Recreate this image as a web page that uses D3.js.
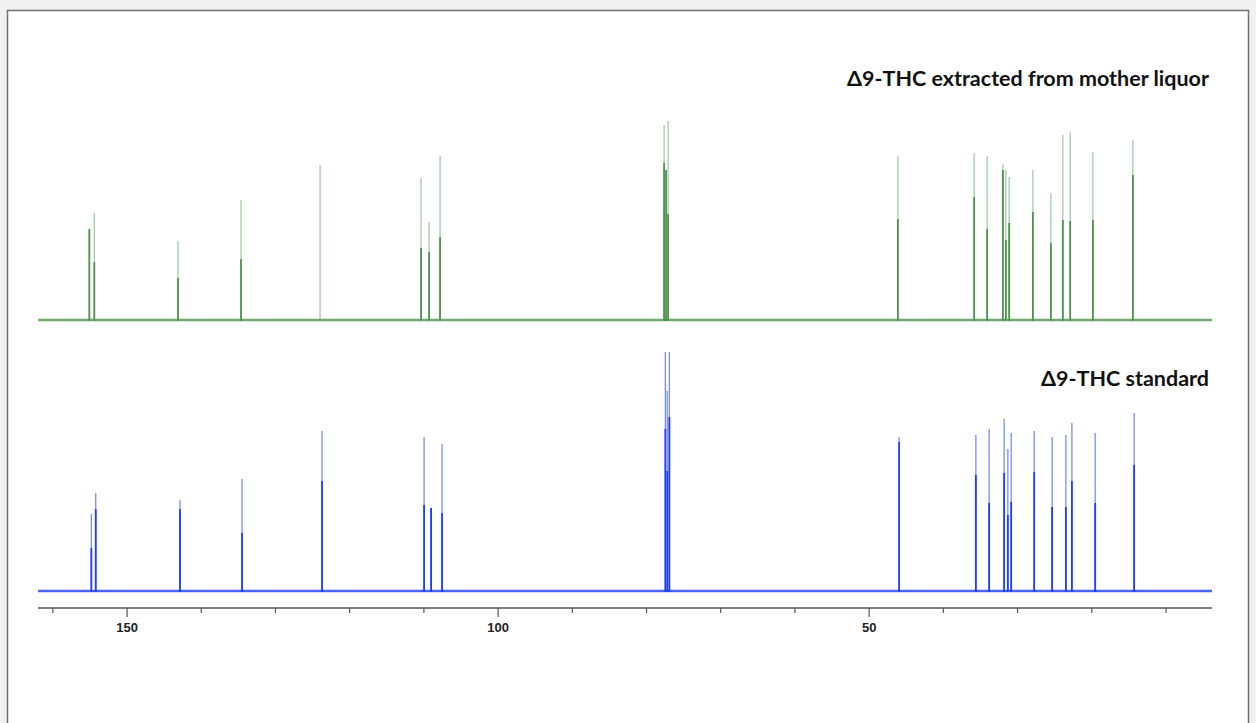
<!DOCTYPE html>
<html>
<head>
<meta charset="utf-8">
<script src="https://cdn.jsdelivr.net/npm/d3@7"></script>
<style>
  body { margin: 0; background: #f0f0f0; }
  svg { display: block; }
</style>
</head>
<body>
<svg id="mainVisualization" width="1256" height="723"></svg>
<script>
// peak positions (ppm), full heights and the dense lower part
var greenPpm    = [155.08, 154.41, 143.13, 134.64, 123.99, 110.38, 109.30, 107.82, 77.63, 77.36, 77.09,
                   46.13, 35.85, 34.10, 31.98, 31.58, 31.13, 27.94, 25.51, 23.90, 22.91, 19.85, 14.46];
var greenHeight = [91, 107, 79, 120, 155, 142, 98, 164, 195, 150, 199,
                   164, 167, 164, 156, 150, 143, 150, 127, 185, 188, 168, 180];
var greenCore   = [91, 58, 42, 61, 0, 72, 68, 83, 157, 150, 106,
                   101, 123, 91, 150, 80, 97, 108, 77, 100, 99, 100, 145];

var bluePpm     = [154.81, 154.22, 142.86, 134.50, 123.72, 109.97, 109.03, 107.55, 77.46, 77.20, 76.92,
                   45.96, 35.62, 33.83, 31.81, 31.31, 30.86, 27.76, 25.34, 23.49, 22.68, 19.54, 14.29];
var blueHeight  = [77, 98, 91, 112, 160, 154, 83, 147, 300, 200, 300,
                   154, 156, 162, 172, 142, 158, 160, 154, 156, 168, 158, 178];
var blueCore    = [43, 82, 82, 58, 110, 86, 83, 78, 162, 120, 174,
                   149, 116, 88, 118, 76, 89, 119, 84, 84, 110, 88, 126];

var majorTicks = [150, 100, 50];
var minorTicks = [160, 140, 130, 120, 110, 90, 80, 70, 60, 40, 30, 20, 10];

var labelTop = "\u03949-THC extracted from mother liquor";
var labelBottom = "\u03949-THC standard";

var svg = d3.select("svg#mainVisualization");

// white panel
svg.append("rect")
   .attr("x", 7.5).attr("y", 10.5)
   .attr("width", 1241).attr("height", 730)
   .attr("fill", "#fff")
   .attr("stroke", "#707070")
   .attr("stroke-width", 1.5);

var x = d3.scaleLinear().domain([162, 3.8]).range([38, 1212]);
var yTop = d3.scaleLinear().domain([0, 200]).range([320, 120]);
var yBot = d3.scaleLinear().domain([0, 200]).range([591, 391]);

svg.append("clipPath").attr("id", "clipBot")
   .append("rect").attr("x", 30).attr("y", 352).attr("width", 1200).attr("height", 250);

function drawSpectrum(ppm, height, core, y, color, faint, clip) {
  var g = svg.append("g");
  if (clip) g.attr("clip-path", "url(#" + clip + ")");
  var peaks = ppm.map(function(p, i) { return {ppm: p, h: height[i], c: core[i]}; });

  // baseline
  g.append("line")
   .attr("x1", x.range()[0]).attr("x2", x.range()[1])
   .attr("y1", y(0)).attr("y2", y(0))
   .attr("stroke", color)
   .attr("stroke-width", 2.4)
   .attr("stroke-opacity", 0.8);

  // faint full-height sticks
  g.selectAll("line.full")
   .data(peaks)
   .enter().append("line")
   .attr("class", "full")
   .attr("x1", function(d) { return x(d.ppm); })
   .attr("x2", function(d) { return x(d.ppm); })
   .attr("y1", y(0))
   .attr("y2", function(d) { return y(d.h); })
   .attr("stroke", color)
   .attr("stroke-width", 1.3)
   .attr("stroke-opacity", faint);

  // dense lower part
  g.selectAll("line.core")
   .data(peaks.filter(function(d) { return d.c > 0; }))
   .enter().append("line")
   .attr("class", "core")
   .attr("x1", function(d) { return x(d.ppm); })
   .attr("x2", function(d) { return x(d.ppm); })
   .attr("y1", y(0) + 1)
   .attr("y2", function(d) { return y(d.c); })
   .attr("stroke", color)
   .attr("stroke-width", 1.8);
}

drawSpectrum(greenPpm, greenHeight, greenCore, yTop, "#4f934f", 0.5, null);
drawSpectrum(bluePpm, blueHeight, blueCore, yBot, "#1f3dff", 0.6, "clipBot");

// x axis
var axisY = 608;
var axis = svg.append("g");
axis.append("line")
    .attr("x1", x.range()[0]).attr("x2", x.range()[1])
    .attr("y1", axisY).attr("y2", axisY)
    .attr("stroke", "#555").attr("stroke-width", 1.5);

axis.selectAll("line.minor")
    .data(minorTicks)
    .enter().append("line")
    .attr("x1", function(d) { return x(d); })
    .attr("x2", function(d) { return x(d); })
    .attr("y1", axisY).attr("y2", axisY + 5)
    .attr("stroke", "#555").attr("stroke-width", 1.2);

axis.selectAll("line.major")
    .data(majorTicks)
    .enter().append("line")
    .attr("x1", function(d) { return x(d); })
    .attr("x2", function(d) { return x(d); })
    .attr("y1", axisY).attr("y2", axisY + 9)
    .attr("stroke", "#555").attr("stroke-width", 1.2);

axis.selectAll("text")
    .data(majorTicks)
    .enter().append("text")
    .attr("x", function(d) { return x(d); })
    .attr("y", 632)
    .attr("text-anchor", "middle")
    .attr("font-family", "Liberation Sans, Arial, sans-serif")
    .attr("font-weight", "bold")
    .attr("font-size", 13)
    .attr("fill", "#222")
    .text(function(d) { return d; });

// labels
svg.append("text")
   .attr("x", 1209).attr("y", 86)
   .attr("text-anchor", "end")
   .attr("font-family", "Lato, sans-serif")
   .attr("font-weight", "bold")
   .attr("font-size", 21.5)
   .attr("fill", "#111")
   .text(labelTop);

svg.append("text")
   .attr("x", 1209).attr("y", 386)
   .attr("text-anchor", "end")
   .attr("font-family", "Lato, sans-serif")
   .attr("font-weight", "bold")
   .attr("font-size", 21.5)
   .attr("fill", "#111")
   .text(labelBottom);
</script>
</body>
</html>
